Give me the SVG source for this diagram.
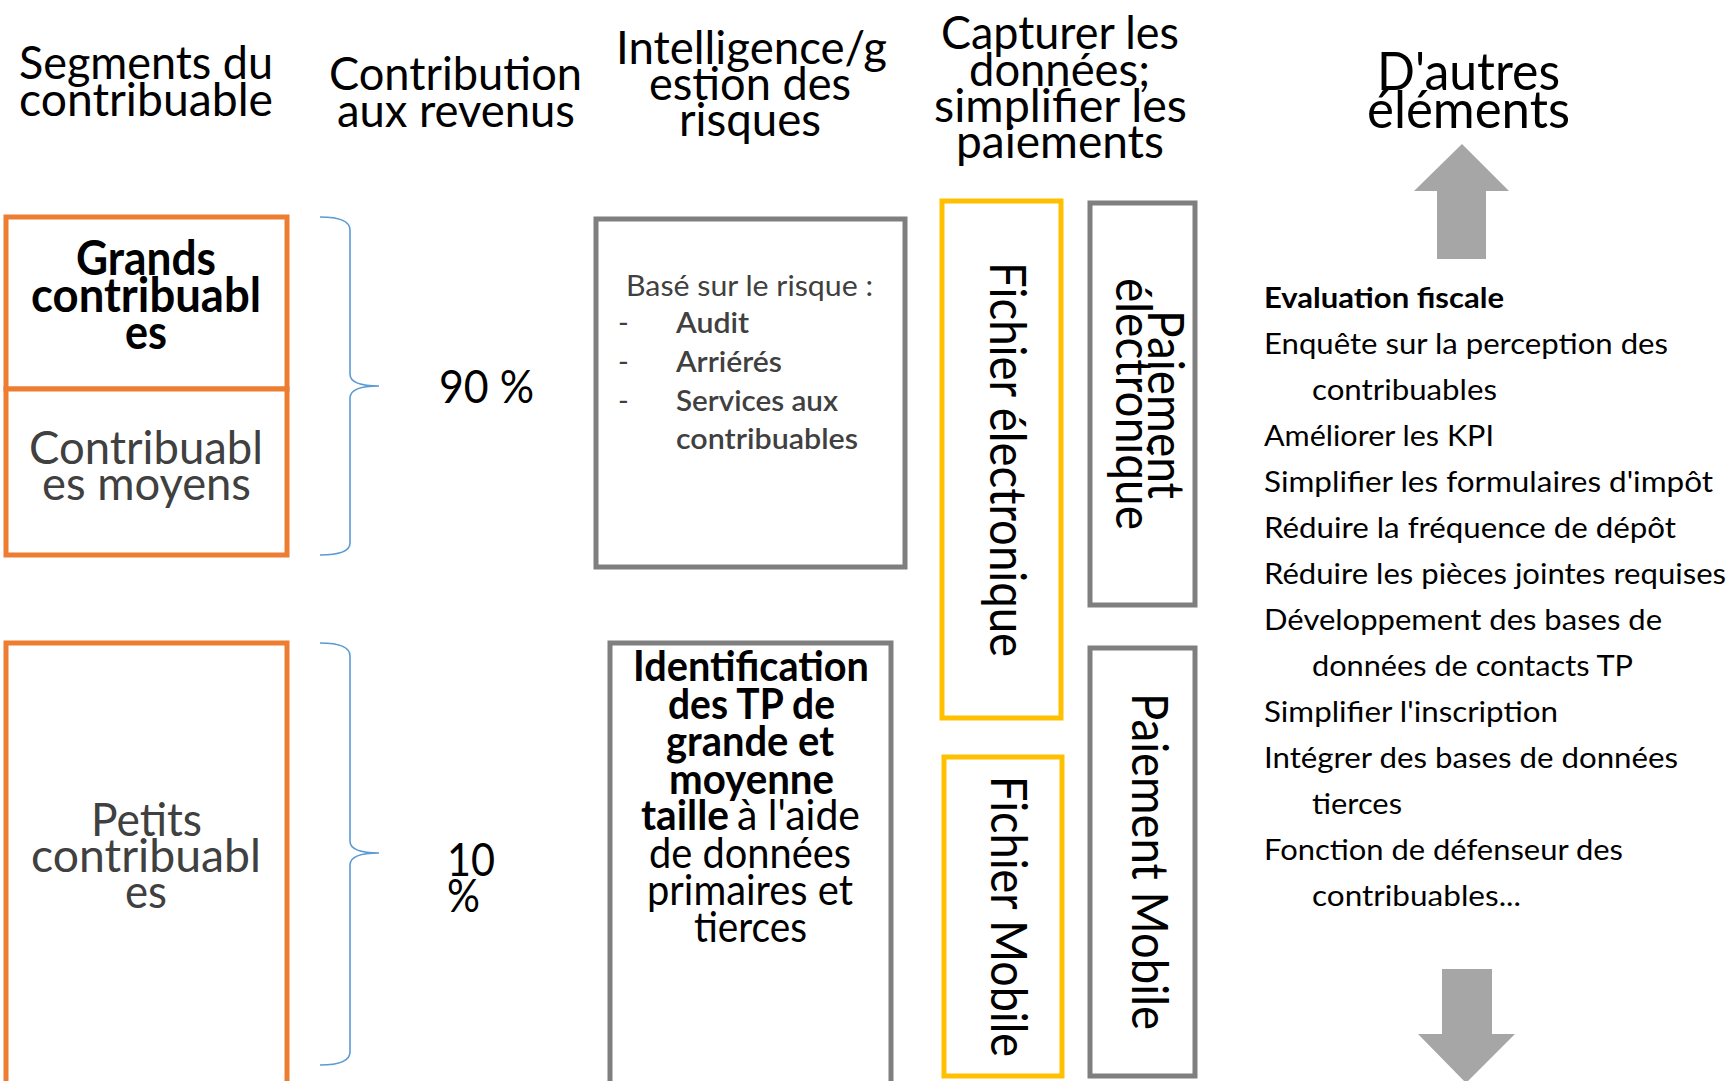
<svg xmlns="http://www.w3.org/2000/svg" width="1729" height="1081" viewBox="0 0 1729 1081">
<style>
text{font-family:Lato,"Open Sans","Liberation Sans",sans-serif;fill:#000}
.h{font-size:46px}
.h2{font-size:52px}
.seg{font-size:47px}
.g{fill:#404040}
.b{font-weight:700}
.sb{font-weight:600}
.r{font-size:29px}
.id{font-size:42px}
.v{font-size:50px}
.lst{font-size:29px}
.orange{fill:#fff;stroke:#ED7D31;stroke-width:5}
.grey{fill:#fff;stroke:#7F7F7F;stroke-width:5}
.yellow{fill:#fff;stroke:#FFC000;stroke-width:5}
.brace{fill:none;stroke:#5B9BD5;stroke-width:1.6}
.arrow{fill:#A6A6A6}
</style>
<rect width="1729" height="1081" fill="#fff"/>

<g id="headers">
<text class="h" x="19" y="79" textLength="254" lengthAdjust="spacingAndGlyphs">Segments du</text>
<text class="h" x="19" y="116" textLength="254" lengthAdjust="spacingAndGlyphs">contribuable</text>
<text class="h" x="329" y="90" textLength="253" lengthAdjust="spacingAndGlyphs">Contribution</text>
<text class="h" x="337" y="127" textLength="238" lengthAdjust="spacingAndGlyphs">aux revenus</text>
<text class="h" x="616" y="64" textLength="271" lengthAdjust="spacingAndGlyphs">Intelligence/g</text>
<text class="h" x="649" y="100" textLength="202" lengthAdjust="spacingAndGlyphs">estion des</text>
<text class="h" x="679" y="136" textLength="142" lengthAdjust="spacingAndGlyphs">risques</text>
<text class="h" x="941" y="49" textLength="238" lengthAdjust="spacingAndGlyphs">Capturer les</text>
<text class="h" x="969" y="86" textLength="181" lengthAdjust="spacingAndGlyphs">données;</text>
<text class="h" x="934" y="122" textLength="253" lengthAdjust="spacingAndGlyphs">simplifier les</text>
<text class="h" x="956" y="158" textLength="208" lengthAdjust="spacingAndGlyphs">paiements</text>
<text class="h2" x="1377" y="90" textLength="183" lengthAdjust="spacingAndGlyphs">D'autres</text>
<text class="h2" x="1367" y="128" textLength="203" lengthAdjust="spacingAndGlyphs">éléments</text>
</g>

<g id="grands">
<rect class="orange" x="6" y="217" width="281" height="172"/>
<text class="seg b" x="76" y="275" textLength="140" lengthAdjust="spacingAndGlyphs">Grands</text>
<text class="seg b" x="31" y="312" textLength="230" lengthAdjust="spacingAndGlyphs">contribuabl</text>
<text class="seg b" x="125" y="349" textLength="42" lengthAdjust="spacingAndGlyphs">es</text>
</g>
<g id="moyens">
<rect class="orange" x="6" y="389" width="281" height="166"/>
<text class="seg g" x="29" y="464" textLength="234" lengthAdjust="spacingAndGlyphs">Contribuabl</text>
<text class="seg g" x="42" y="500" textLength="209" lengthAdjust="spacingAndGlyphs">es moyens</text>
</g>
<g id="petits">
<rect class="orange" x="6" y="643" width="281" height="450"/>
<text class="seg g" x="91" y="836" textLength="111" lengthAdjust="spacingAndGlyphs">Petits</text>
<text class="seg g" x="31" y="872" textLength="230" lengthAdjust="spacingAndGlyphs">contribuabl</text>
<text class="seg g" x="125" y="908" textLength="42" lengthAdjust="spacingAndGlyphs">es</text>
</g>

<g id="connectors">
<path class="brace" d="M320,217 Q350,217 350,230 L350,374 Q350,386 379,386 Q350,386 350,398 L350,543 Q350,555 320,555"/>
<path class="brace" d="M320,643 Q350,643 350,656 L350,841 Q350,853 379,853 Q350,853 350,865 L350,1052 Q350,1065 320,1065"/>
</g>

<g id="pct90">
<text class="h" x="439" y="403" textLength="95" lengthAdjust="spacingAndGlyphs">90 %</text>
</g>
<g id="pct10">
<text class="h" x="447" y="876" textLength="48" lengthAdjust="spacingAndGlyphs">10</text>
<text class="h" x="447" y="912" textLength="33" lengthAdjust="spacingAndGlyphs">%</text>
</g>

<g id="risque">
<rect class="grey" x="596" y="219" width="309" height="348"/>
<text class="r g" x="626" y="296" textLength="247" lengthAdjust="spacingAndGlyphs">Basé sur le risque :</text>
<text class="r g" x="618" y="333">-</text>
<text class="r g sb" x="676" y="333" textLength="73" lengthAdjust="spacingAndGlyphs">Audit</text>
<text class="r g" x="618" y="372">-</text>
<text class="r g sb" x="676" y="372" textLength="106" lengthAdjust="spacingAndGlyphs">Arriérés</text>
<text class="r g" x="618" y="411">-</text>
<text class="r g sb" x="676" y="411" textLength="162" lengthAdjust="spacingAndGlyphs">Services aux</text>
<text class="r g sb" x="676" y="449" textLength="182" lengthAdjust="spacingAndGlyphs">contribuables</text>
</g>

<g id="identification">
<rect class="grey" x="610" y="643" width="281" height="450"/>
<text class="id b" x="633" y="681" textLength="236" lengthAdjust="spacingAndGlyphs">Identification</text>
<text class="id b" x="668" y="719" textLength="167" lengthAdjust="spacingAndGlyphs">des TP de</text>
<text class="id b" x="666" y="756" textLength="168" lengthAdjust="spacingAndGlyphs">grande et</text>
<text class="id b" x="669" y="794" textLength="165" lengthAdjust="spacingAndGlyphs">moyenne</text>
<text class="id b" x="641" y="830" textLength="88" lengthAdjust="spacingAndGlyphs">taille</text>
<text class="id" x="737" y="830" textLength="123" lengthAdjust="spacingAndGlyphs">à l'aide</text>
<text class="id" x="649" y="868" textLength="202" lengthAdjust="spacingAndGlyphs">de données</text>
<text class="id" x="647" y="905" textLength="206" lengthAdjust="spacingAndGlyphs">primaires et</text>
<text class="id" x="694" y="942" textLength="113" lengthAdjust="spacingAndGlyphs">tierces</text>
</g>

<g id="fichier-electronique">
<rect class="yellow" x="942" y="201" width="119" height="517"/>
<text class="v" transform="translate(990,262) rotate(90)" textLength="395" lengthAdjust="spacingAndGlyphs">Fichier électronique</text>
</g>
<g id="fichier-mobile">
<rect class="yellow" x="944" y="757" width="118" height="319"/>
<text class="v" transform="translate(991,776) rotate(90)" textLength="281" lengthAdjust="spacingAndGlyphs">Fichier Mobile</text>
</g>
<g id="paiement-electronique">
<rect class="grey" x="1090" y="203" width="105" height="402"/>
<text class="v" transform="translate(1148,310) rotate(90)" textLength="189" lengthAdjust="spacingAndGlyphs">Paiement</text>
<text class="v" transform="translate(1116,278) rotate(90)" textLength="252" lengthAdjust="spacingAndGlyphs">électronique</text>
</g>
<g id="paiement-mobile">
<rect class="grey" x="1090" y="648" width="105" height="428"/>
<text class="v" transform="translate(1132,693) rotate(90)" textLength="337" lengthAdjust="spacingAndGlyphs">Paiement Mobile</text>
</g>

<g id="autres">
<polygon class="arrow" points="1462,144 1509,191 1486,191 1486,259 1437,259 1437,191 1414,191"/>
<text class="lst b" x="1264" y="308" textLength="240" lengthAdjust="spacingAndGlyphs">Evaluation fiscale</text>
<text class="lst" x="1264" y="354" textLength="404" lengthAdjust="spacingAndGlyphs">Enquête sur la perception des</text>
<text class="lst" x="1312" y="400" textLength="185" lengthAdjust="spacingAndGlyphs">contribuables</text>
<text class="lst" x="1264" y="446" textLength="230" lengthAdjust="spacingAndGlyphs">Améliorer les KPI</text>
<text class="lst" x="1264" y="492" textLength="449" lengthAdjust="spacingAndGlyphs">Simplifier les formulaires d'impôt</text>
<text class="lst" x="1264" y="538" textLength="412" lengthAdjust="spacingAndGlyphs">Réduire la fréquence de dépôt</text>
<text class="lst" x="1264" y="584" textLength="462" lengthAdjust="spacingAndGlyphs">Réduire les pièces jointes requises</text>
<text class="lst" x="1264" y="630" textLength="398" lengthAdjust="spacingAndGlyphs">Développement des bases de</text>
<text class="lst" x="1312" y="676" textLength="321" lengthAdjust="spacingAndGlyphs">données de contacts TP</text>
<text class="lst" x="1264" y="722" textLength="294" lengthAdjust="spacingAndGlyphs">Simplifier l'inscription</text>
<text class="lst" x="1264" y="768" textLength="414" lengthAdjust="spacingAndGlyphs">Intégrer des bases de données</text>
<text class="lst" x="1312" y="814" textLength="90" lengthAdjust="spacingAndGlyphs">tierces</text>
<text class="lst" x="1264" y="860" textLength="359" lengthAdjust="spacingAndGlyphs">Fonction de défenseur des</text>
<text class="lst" x="1312" y="906" textLength="209" lengthAdjust="spacingAndGlyphs">contribuables...</text>
<polygon class="arrow" points="1442,969 1492,969 1492,1034 1515,1034 1466,1083 1418,1034 1442,1034"/>
</g>
</svg>
